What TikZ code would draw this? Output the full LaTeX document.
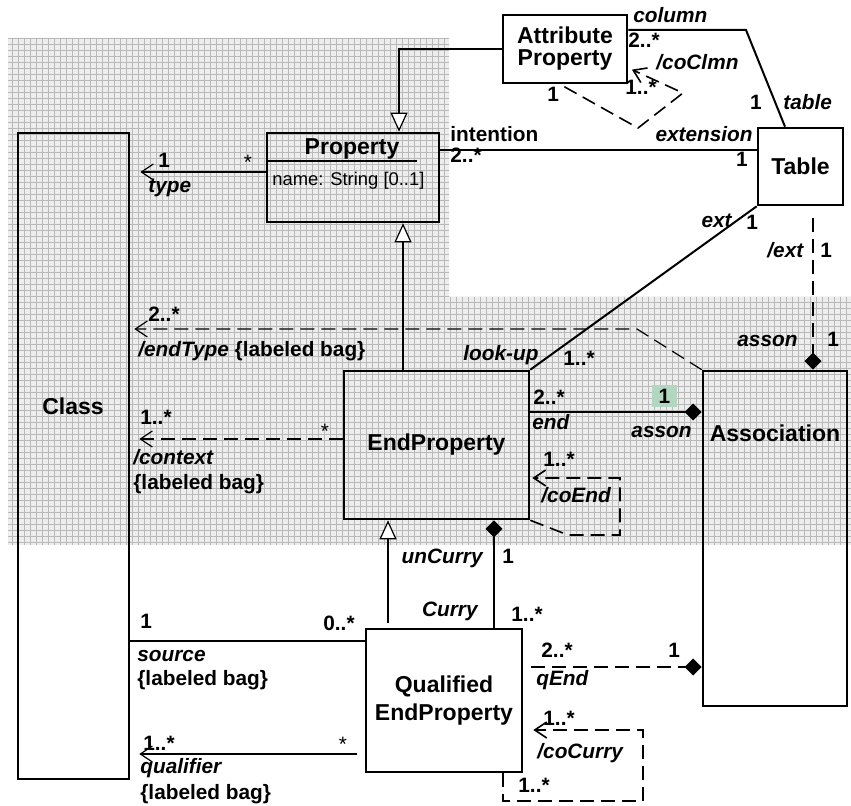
\documentclass[tikz,border=0pt]{standalone}
\usepackage{fontspec}
\setmainfont{Liberation Sans}
\usepackage{xcolor}
\usetikzlibrary{arrows.meta}
\usetikzlibrary{patterns}

\definecolor{hlgreen}{RGB}{178,214,192}
\newcommand{\clsfont}{\fontsize{11.5}{13}\selectfont}
\newcommand{\lblfont}{\fontsize{10.4}{12}\selectfont}
\newcommand{\attrfont}{\fontsize{9.2}{11}\selectfont}

\tikzset{
	box/.style={draw, line width=1.3pt, inner sep=0pt},
	title/.style={font=\clsfont\bfseries, align=center},
	lbl/.style={font=\lblfont\bfseries, inner sep=0pt, anchor=base west},
	role/.style={font=\lblfont\bfseries\itshape, inner sep=0pt, anchor=base west},
	star/.style={font=\lblfont, inner sep=0pt, anchor=base},
	assoc/.style={line width=1pt},
	thinassoc/.style={line width=0.6pt},
	dassoc/.style={line width=0.8pt, dash pattern=on 7pt off 3.5pt},
	gen/.style={line width=0.6pt, -{Triangle[open, length=9.5pt, width=8.5pt, fill=white]}},
	comp/.style={-{Diamond[length=8.5pt, width=8.5pt]}},
	nav/.style={-{Straight Barb[length=6pt, width=8pt]}},
}

\begin{document}
\begin{tikzpicture}[x=0.5pt,y=-0.5pt]
		\useasboundingbox (0,0) rectangle (851,806);
		
		% shaded part
		\fill[gray!14, postaction={pattern=grid, pattern color=gray!55}]
		(8,38) -- (449,38) -- (449,297) -- (851,297) -- (851,545) -- (8,545) -- cycle;
		
		% classes
		\node[box, minimum width=55.5pt, minimum height=323pt] (Class) at (73.5,456) {};
		\node[title] (ClassName) at (73,406) {Class};
		\node[box, minimum width=86pt, minimum height=44.5pt] (Property) at (353,177.5) {};
		\node[title] (PropertyName) at (352,149) {Property};
		\draw[thinassoc] (Property.west |- 0,161) -- (417,161);
		\node[font=\attrfont, inner sep=0pt, anchor=west] (PropertyAttr) at (272,181) {name: String [0..1]};
		\node[box, title, minimum width=62pt, minimum height=34pt] (AP) at (565,49) {Attribute\\[-2pt]Property};
		\node[box, title, minimum width=42.5pt, minimum height=38.5pt] (Table) at (800.5,166.5) {Table};
		\node[box, title, minimum width=92.5pt, minimum height=74pt] (EndProperty) at (436.5,445) {EndProperty};
		\node[box, minimum width=72pt, minimum height=167.5pt] (Association) at (775,538.5) {};
		\node[title] (AssociationName) at (775,433) {Association};
		\node[box, title, minimum width=78pt, minimum height=71.5pt] (QEP) at (444,700.5) {Qualified\\[1pt]EndProperty};
		
		% generalizations
		\draw[gen] (AP.west) -| (Property.north -| 399,0);
		\draw[gen] (EndProperty.north -| 403,0) -- (Property.south -| 403,0);
		\draw[gen, shorten <=2.5pt] (QEP.north -| 388,0) -- (EndProperty.south -| 388,0);
		
		% associations
		\draw[thinassoc, nav, shorten >=5pt] (Property.west |- 0,172) -- (Class.east |- 0,172);
		\draw[assoc] (Property.east |- 0,150) -- (Table.west |- 0,150);
		\draw[assoc] (AP.east |- 0,30) -- (746,30) -- (Table.north -| 785,0);
		\draw[dassoc, nav, shorten <=2.5pt, shorten >=2pt] (AP.south -| 560,0) -- (638,128) -- (683,93) -- (AP.east |- 0,68);
		\draw[assoc] (Table.south west) -- (EndProperty.north east);
		\draw[dassoc, comp, shorten <=6pt] (Table.south -| 813,0) -- (Association.north -| 813,0);
		\draw[thinassoc, dash pattern=on 7pt off 3.5pt, nav, shorten >=2pt] (Association.north west) -- (637,329) -- (Class.east |- 0,329);
		\draw[thinassoc, dash pattern=on 7pt off 3.5pt, nav, shorten >=4.5pt] (EndProperty.west |- 0,439) -- (Class.east |- 0,439);
		\draw[assoc, comp] (EndProperty.east |- 0,412) -- (Association.west |- 0,412);
		\draw[dassoc, nav, shorten >=1pt] (EndProperty.south east) -- (568,535) -- (620,535) -- (620,478) -- (EndProperty.east |- 0,478);
		\draw[assoc, comp] (QEP.north -| 494,0) -- (EndProperty.south -| 494,0);
		\draw[thinassoc] (QEP.west |- 0,641) -- (Class.east |- 0,641);
		\draw[thinassoc, nav, shorten <=4pt, shorten >=4.5pt] (QEP.west |- 0,754) -- (Class.east |- 0,754);
		\draw[dassoc, line width=1pt, comp, shorten <=4pt] (QEP.east |- 0,667) -- (Association.west |- 0,667);
		\draw[dassoc, nav, shorten >=5pt] (QEP.south -| 503,0) -- (503,801) -- (643,801) -- (643,730) -- (QEP.east |- 0,730);
		
		% ends
		\node[lbl] (m1) at (158,168) {1};
		\node[role] (r1) at (148,193) {type};
		\node[star] (s1) at (248,170) {*};
		\node[lbl] (n1) at (450,142) {intention};
		\node[lbl] (m2) at (450,163) {2..*};
		\node[role, anchor=base east] (r2) at (753,142) {extension};
		\node[lbl, anchor=base east] (m3) at (748,167) {1};
		\node[role] (r3) at (633,23) {column};
		\node[lbl] (m4) at (628,48) {2..*};
		\node[role] (r4) at (656,70) {/coClmn};
		\node[lbl] (m5) at (547,102) {1};
		\node[lbl] (m6) at (625,95) {1..*};
		\node[lbl, anchor=base east] (m7) at (762,110) {1};
		\node[role] (r5) at (783,110) {table};
		\node[role, anchor=base east] (r6) at (732,228) {ext};
		\node[lbl] (m8) at (746,230) {1};
		\node[role] (r7) at (767,258) {/ext};
		\node[lbl] (m9) at (820,258) {1};
		\node[role] (r8) at (737,347) {asson};
		\node[lbl] (m10) at (827,347) {1};
		\node[role] (r9) at (463,361) {look-up};
		\node[lbl] (m11) at (563,366) {1..*};
		\node[lbl] (m12) at (533,405) {2..*};
		\node[lbl, anchor=center, fill=hlgreen, minimum width=12.5pt, minimum height=11pt] (m13) at (664.5,396) {1};
		\node[role] (r10) at (532,430) {end};
		\node[role, anchor=base east] (r11) at (692,438) {asson};
		\node[lbl] (m14) at (543,467) {1..*};
		\node[role] (r12) at (541,503) {/coEnd};
		\node[lbl] (m15) at (148,322) {2..*};
		\node[lbl] (r13) at (138,357) {\textit{/endType} \{labeled bag\}};
		\node[lbl] (m16) at (140,425) {1..*};
		\node[star] (s2) at (325,439) {*};
		\node[role] (r14) at (133,465) {/context};
		\node[lbl] (b1) at (133,490) {\{labeled bag\}};
		\node[role, anchor=base east] (r15) at (483,564) {unCurry};
		\node[lbl] (m17) at (502,564) {1};
		\node[role, anchor=base east] (r16) at (478,617) {Curry};
		\node[lbl] (m18) at (511,621) {1..*};
		\node[lbl] (m19) at (140,628) {1};
		\node[lbl, anchor=base east] (m20) at (355,630) {0..*};
		\node[role] (r17) at (137,661) {source};
		\node[lbl] (b2) at (137,685) {\{labeled bag\}};
		\node[lbl] (m21) at (143,750) {1..*};
		\node[star] (s3) at (343,751) {*};
		\node[role] (r18) at (140,773) {qualifier};
		\node[lbl] (b3) at (140,799) {\{labeled bag\}};
		\node[lbl] (m22) at (541,657) {2..*};
		\node[lbl] (m23) at (668,657) {1};
		\node[role] (r19) at (536,685) {qEnd};
		\node[lbl] (m24) at (543,725) {1..*};
		\node[role] (r20) at (537,758) {/coCurry};
		\node[lbl] (m25) at (518,792) {1..*};
	\end{tikzpicture}
\end{document}
